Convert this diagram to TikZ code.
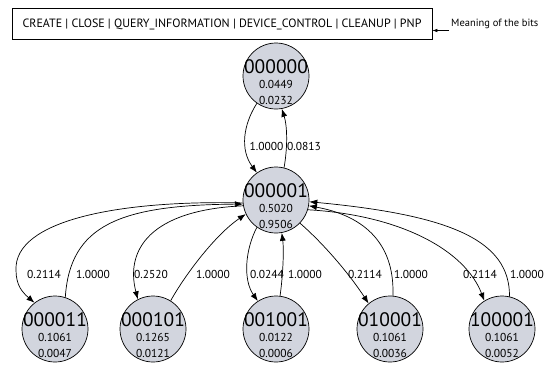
\documentclass[tikz,border=0pt]{standalone}
\usepackage{fontspec}
\setmainfont{PT Sans}
\usetikzlibrary{arrows.meta}
\definecolor{nodegray}{RGB}{210,213,222}
\newcommand\stnode[6]{%
  \node[st] (#1) at (#2,#3) {};
  \node[bigtxt] (#1-t) at ([yshift=9pt]#1.center) {#4};
  \node[smtxt] (#1-a) at ([yshift=-8pt]#1.center) {#5};
  \node[smtxt] (#1-b) at ([yshift=-24pt]#1.center) {#6};
}
\begin{document}
\begin{tikzpicture}[x=1pt,y=-1pt,
  st/.style={circle,draw=black,fill=nodegray,minimum size=66pt,inner sep=0pt,line width=0.7pt},
  bigtxt/.style={font=\fontsize{19.5}{19.5}\selectfont,inner sep=0pt},
  smtxt/.style={font=\fontsize{11.5}{12}\selectfont,inner sep=0pt},
  lab/.style={font=\fontsize{11.5}{12}\selectfont,inner sep=0pt},
  ed/.style={draw=black,line width=0.7pt,-{Latex[length=8pt,width=6pt]}}]
\useasboundingbox (0,0) rectangle (552,365);
% legend box
\node[draw=black,line width=0.7pt,minimum width=420pt,minimum height=31pt,inner sep=0pt,
  font=\fontsize{12}{13}\selectfont] (bits) at (222,24)
  {CREATE | CLOSE | QUERY\_INFORMATION | DEVICE\_CONTROL | CLEANUP | PNP};
\node[anchor=west,inner sep=0pt,font=\fontsize{10.5}{11}\selectfont] (mean) at (451,24) {Meaning of the bits};
\coordinate (mstart) at (449,30.5);
\draw[line width=0.6pt,-{Latex[length=5pt,width=3.5pt]}] (mstart) -- (mstart -| bits.east);
% states
\stnode{n0}{276}{76}{000000}{0.0449}{0.0232}
\stnode{n1}{276}{200}{000001}{0.5020}{0.9506}
\stnode{n3}{55}{329}{000011}{0.1061}{0.0047}
\stnode{n4}{153}{329}{000101}{0.1265}{0.0121}
\stnode{n5}{276}{329}{001001}{0.0122}{0.0006}
\stnode{n6}{390}{329}{010001}{0.1061}{0.0036}
\stnode{n7}{502}{329}{100001}{0.1061}{0.0052}
% edges top
\draw[ed] (n0.235) .. controls (243,125) and (240,150) .. (n1.125);
\draw[ed] (n1.76) .. controls (288,145) and (287,125) .. (n0.280);
\node[lab] (l01) at (266.5,146) {1.0000};
\node[lab] (l10) at (304,146) {0.0813};
% edges bottom
\draw[ed] (n1.185) .. controls (120,200) and (14,220) .. (16,270) .. controls (16,285) and (22,292) .. (n3.128);
\draw[ed] (n3.72) .. controls (70,225) and (120,205) .. (n1.187);
\draw[ed] (n1.190) .. controls (150,210) and (125,250) .. (n4.117);
\draw[ed] (n4.58) .. controls (185,275) and (215,235) .. (n1.205);
\draw[ed] (n1.235) .. controls (245,250) and (243,280) .. (n5.123);
\draw[ed] (n5.83) .. controls (283,275) and (284,250) .. (n1.280);
\draw[ed] (n1.316) .. controls (325,245) and (350,275) .. (n6.130);
\draw[ed] (n6.85) .. controls (395,240) and (360,215) .. (n1.350);
\draw[ed] (n1.343) .. controls (400,215) and (465,250) .. (n7.122);
\draw[ed] (n7.77) .. controls (510,240) and (450,215) .. (n1.357);
% labels
\node[lab] (l13) at (44,274) {0.2114};
\node[lab] (l31) at (93,274) {1.0000};
\node[lab] (l14) at (151,274) {0.2520};
\node[lab] (l41) at (213,274) {1.0000};
\node[lab] (l15) at (267,274) {0.0244};
\node[lab] (l51) at (305,274) {1.0000};
\node[lab] (l16) at (365,274) {0.2114};
\node[lab] (l61) at (411,274) {1.0000};
\node[lab] (l17) at (480,274) {0.2114};
\node[lab] (l71) at (527,274) {1.0000};
\end{tikzpicture}
\end{document}
